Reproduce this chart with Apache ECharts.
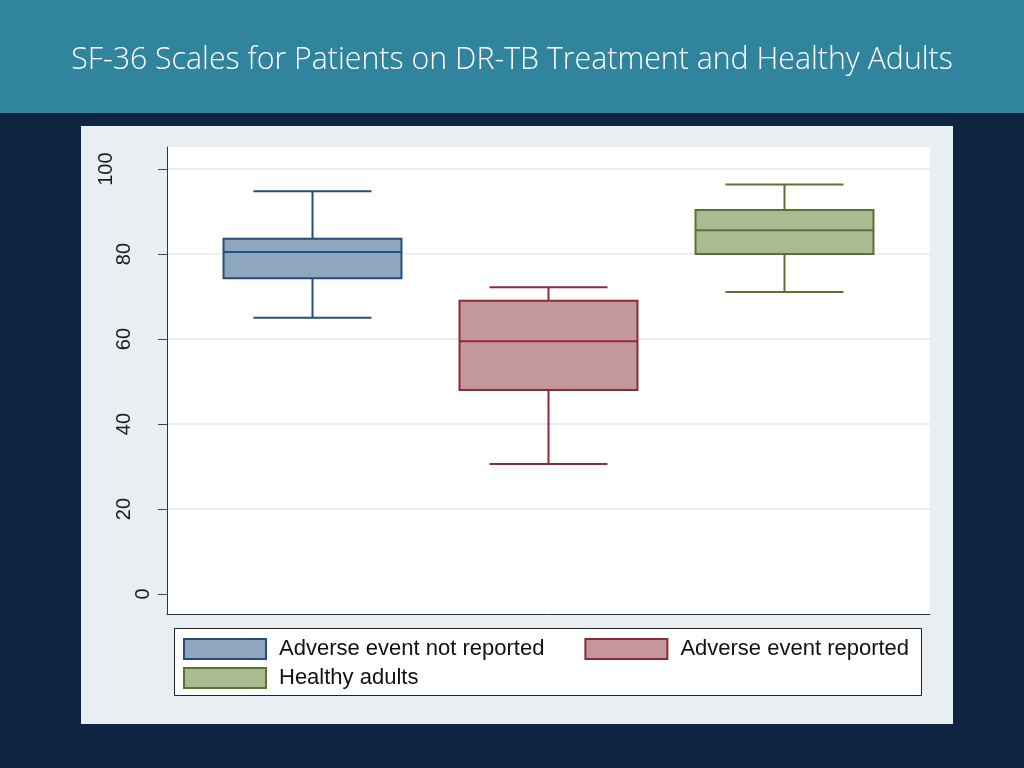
<!DOCTYPE html>
<html>
<head>
<meta charset="utf-8">
<title>SF-36 Scales</title>
<script src="https://cdn.jsdelivr.net/npm/echarts@6/dist/echarts.min.js"></script>
<style>
    html, body {margin:0;padding:0;background:#0f2440;}
    #chart {width:1024px;height:768px;}
</style>
</head>
<body>
<div id="chart"></div>
<script>
    // groups and box statistics
    var groups = ['Adverse event not reported', 'Adverse event reported', 'Healthy adults'];
    var lowWhisker = [65, 30.6, 71.1];
    var lowerQuartile = [74.3, 48, 80];
    var medians = [80.5, 59.5, 85.6];
    var upperQuartile = [83.6, 69, 90.4];
    var highWhisker = [94.8, 72.2, 96.4];
    var yTicks = [0, 20, 40, 60, 80, 100];

    var fillColors = ['#8fa6bf', '#c4979d', '#aabb92'];
    var lineColors = ['#234e7a', '#8c2b38', '#5b7232'];

    var chart = echarts.init(document.getElementById('chart'));

    function renderBox(params, api) {
        var x = api.value(0);
        var band = api.size([1, 0])[0];
        var boxHalf = band * 0.377;
        var capHalf = band * 0.25;
        var low = api.coord([x, api.value(1)]);
        var q1 = api.coord([x, api.value(2)]);
        var med = api.coord([x, api.value(3)]);
        var q3 = api.coord([x, api.value(4)]);
        var high = api.coord([x, api.value(5)]);
        var cx = med[0];
        var stroke = lineColors[params.seriesIndex];
        var lineStyle = {stroke: stroke, lineWidth: 2};
        return {
            type: 'group',
            children: [
                {type: 'line', shape: {x1: cx, y1: q3[1], x2: cx, y2: high[1]}, style: lineStyle},
                {type: 'line', shape: {x1: cx - capHalf, y1: high[1], x2: cx + capHalf, y2: high[1]}, style: lineStyle},
                {type: 'line', shape: {x1: cx, y1: q1[1], x2: cx, y2: low[1]}, style: lineStyle},
                {type: 'line', shape: {x1: cx - capHalf, y1: low[1], x2: cx + capHalf, y2: low[1]}, style: lineStyle},
                {
                    type: 'rect',
                    shape: {x: cx - boxHalf, y: q3[1], width: boxHalf * 2, height: q1[1] - q3[1]},
                    style: {fill: fillColors[params.seriesIndex], stroke: stroke, lineWidth: 2}
                },
                {type: 'line', shape: {x1: cx - boxHalf, y1: med[1], x2: cx + boxHalf, y2: med[1]}, style: lineStyle}
            ]
        };
    }

    var series = groups.map(function (name, i) {
        return {
            name: name,
            type: 'custom',
            xAxisIndex: 1,
            yAxisIndex: 1,
            renderItem: renderBox,
            encode: {x: 0, y: [1, 2, 3, 4, 5]},
            itemStyle: {color: fillColors[i], borderColor: lineColors[i], borderWidth: 2},
            data: [[name, lowWhisker[i], lowerQuartile[i], medians[i], upperQuartile[i], highWhisker[i]]]
        };
    });

    function legendItem(i) {
        return {
            name: groups[i],
            icon: 'rect',
            itemStyle: {color: fillColors[i], borderColor: lineColors[i], borderWidth: 2}
        };
    }

    var legendText = {
        fontFamily: 'Liberation Sans',
        fontSize: 22,
        color: '#111',
        padding: [0, 0, 0, 8]
    };

    var option = {
        animation: false,
        graphic: [
            {type: 'rect', z: -10, shape: {x: 0, y: 0, width: 1024, height: 113}, style: {fill: '#31849d'}},
            {type: 'rect', z: -10, shape: {x: 81, y: 126, width: 872, height: 598}, style: {fill: '#e8eef2'}},
            {type: 'rect', z: -5, shape: {x: 174.5, y: 628.5, width: 747, height: 67}, style: {fill: '#fff', stroke: '#222', lineWidth: 1}}
        ],
        title: {
            text: 'SF-36 Scales for Patients on DR-TB Treatment and Healthy Adults',
            left: 'center',
            top: 45,
            padding: 0,
            textStyle: {color: '#fff', fontFamily: 'Open Sans', fontWeight: 300, fontSize: 30.3}
        },
        legend: [
            {
                data: [legendItem(0), legendItem(1)],
                left: 183, top: 638, padding: 0,
                itemWidth: 82, itemHeight: 20, itemGap: 40,
                textStyle: legendText
            },
            {
                data: [legendItem(2)],
                left: 183, top: 667, padding: 0,
                itemWidth: 82, itemHeight: 20,
                textStyle: legendText
            }
        ],
        grid: [
            {left: 167, top: 147, width: 763, height: 467, show: true, backgroundColor: '#fff', borderWidth: 0},
            {left: 194.5, top: 147, width: 708, height: 467}
        ],
        xAxis: [
            {
                type: 'category', gridIndex: 0, data: [''],
                axisLine: {onZero: false, lineStyle: {color: '#333', width: 1}},
                axisTick: {show: false}, axisLabel: {show: false}, splitLine: {show: false}
            },
            {
                type: 'category', gridIndex: 1, data: groups, show: false
            }
        ],
        yAxis: [
            {
                type: 'value', gridIndex: 0, min: -4.7, max: 105.2,
                axisLine: {show: true, lineStyle: {color: '#333', width: 1}},
                axisTick: {show: true, customValues: yTicks, length: 9, lineStyle: {color: '#444'}},
                axisLabel: {
                    customValues: yTicks,
                    rotate: 90,
                    margin: 14,
                    fontFamily: 'Liberation Sans',
                    fontSize: 20,
                    color: '#1a1a1a',
                    formatter: function (v) {
                        var s = String(v);
                        return '{n' + s.length + '|' + s + '}';
                    },
                    rich: {
                        n1: {fontFamily: 'Liberation Sans', fontSize: 20, color: '#1a1a1a', padding: [0, 0, 0, 0]},
                        n2: {fontFamily: 'Liberation Sans', fontSize: 20, color: '#1a1a1a', padding: [0, 0, 19, 0]},
                        n3: {fontFamily: 'Liberation Sans', fontSize: 20, color: '#1a1a1a', padding: [0, 0, 37, 0]}
                    }
                },
                splitLine: {show: true, showMinLine: false, lineStyle: {color: '#eceef1', width: 2}}
            },
            {
                type: 'value', gridIndex: 1, min: -4.7, max: 105.2, show: false,
                splitLine: {show: false}
            }
        ],
        series: series
    };

    chart.setOption(option);
    window.onresize = function () {
        chart.resize();
    };
</script>
</body>
</html>
